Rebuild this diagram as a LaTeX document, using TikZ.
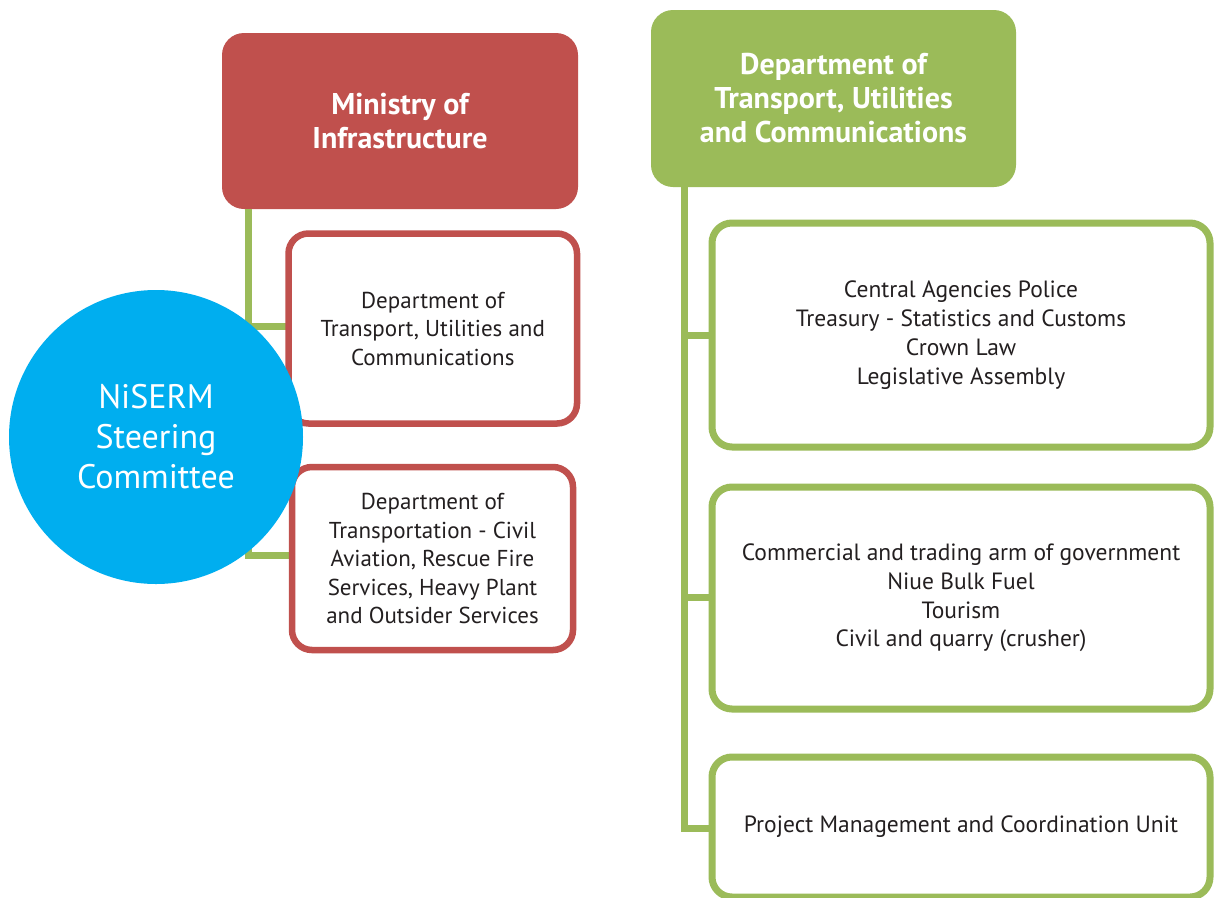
\documentclass[tikz,border=0pt]{standalone}
\usepackage{fontspec}
\setmainfont{PT Sans}
\definecolor{minred}{HTML}{C0504D}
\definecolor{depgreen}{HTML}{9BBB59}
\definecolor{nisblue}{HTML}{00AEEF}
\definecolor{bodytext}{HTML}{231F20}
\begin{document}
\begin{tikzpicture}[x=1pt,y=-1pt,
  headbox/.style={rectangle, rounded corners=22pt, inner sep=0pt, text=white,
    align=center, font=\bfseries\fontsize{30}{34}\selectfont},
  redbox/.style={rectangle, rounded corners=20pt, draw=minred, line width=6.5pt,
    fill=white, inner sep=0pt, text=bodytext, align=center,
    font=\fontsize{23}{28.5}\selectfont},
  greenbox/.style={rectangle, rounded corners=20pt, draw=depgreen, line width=7pt,
    fill=white, inner sep=0pt, text=bodytext, align=center,
    font=\fontsize{23.5}{28.8}\selectfont},
  conn/.style={draw=depgreen, line width=7pt, line join=miter},
  ]
\useasboundingbox[fill=white] (0,0) rectangle (1214,897);

% ministry branch
\node[headbox, fill=minred, minimum width=356pt, minimum height=176pt] (mini) at (400,121)
  {Ministry of\\Infrastructure};
\coordinate (rv) at (248.5,0);
\draw[conn] (mini.south -| rv) -- (rv |- 0,555) -- (292,555);
\draw[conn] (rv |- 0,326) -- (289,326);

\node[redbox, minimum width=288.5pt, minimum height=190pt] (r1) at (432.75,328.5)
  {Department of\\Transport, Utilities and\\Communications};
\node[redbox, minimum width=281pt, minimum height=183pt] (r2) at (432.5,558.5)
  {Department of\\Transportation - Civil\\Aviation, Rescue Fire\\Services, Heavy Plant\\and Outsider Services};

% steering committee
\node[circle, fill=nisblue, minimum size=294pt, inner sep=0pt, text=white, align=center,
  font=\fontsize{34}{40}\selectfont] (nis) at (156,437) {NiSERM\\Steering\\Committee};

% department branch
\node[headbox, fill=depgreen, minimum width=365pt, minimum height=177pt] (dtuc) at (833.5,98.5)
  {Department of\\Transport, Utilities\\and Communications};
\coordinate (gv) at (684.5,0);
\draw[conn] (dtuc.south -| gv) -- (gv |- 0,828) -- (712,828);
\draw[conn] (gv |- 0,335) -- (712,335);
\draw[conn] (gv |- 0,597) -- (712,597);

\node[greenbox, minimum width=498pt, minimum height=224pt] (ga) at (961,335)
  {Central Agencies Police\\Treasury - Statistics and Customs\\Crown Law\\Legislative Assembly};
\node[greenbox, minimum width=498pt, minimum height=222pt] (gb) at (961,598)
  {Commercial and trading arm of government\\Niue Bulk Fuel\\Tourism\\Civil and quarry (crusher)};
\node[greenbox, minimum width=498pt, minimum height=140pt] (gc) at (961,827)
  {Project Management and Coordination Unit};
\end{tikzpicture}
\end{document}
